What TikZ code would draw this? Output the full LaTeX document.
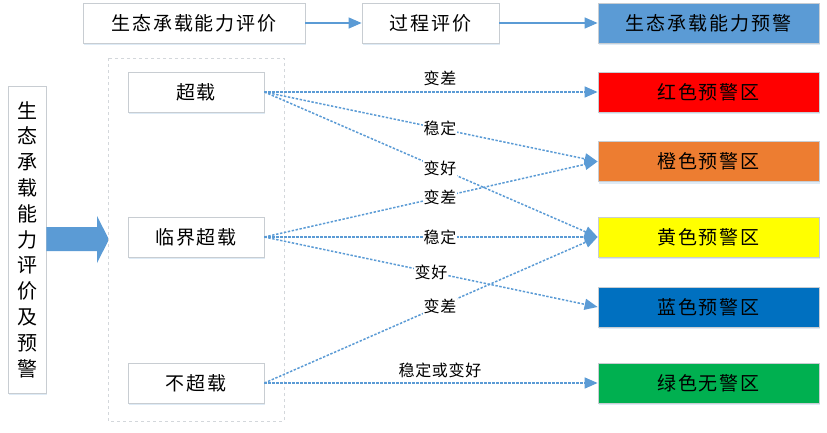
\documentclass[tikz,border=0pt]{standalone}
\usepackage{fontspec}
\setmainfont{Noto Sans CJK SC}
\newfontfamily\spacedcjk[LetterSpace=10]{Noto Sans CJK SC}
\newfontfamily\labelcjk[LetterSpace=4]{Noto Sans CJK SC}
\usetikzlibrary{arrows.meta,shadows}
\definecolor{topblue}{HTML}{5B9BD5}
\definecolor{boxgray}{HTML}{C8CDD2}
\definecolor{cred}{HTML}{FF0000}
\definecolor{corange}{HTML}{ED7D31}
\definecolor{cyellow}{HTML}{FFFF00}
\definecolor{cblue}{HTML}{0070C0}
\definecolor{cgreen}{HTML}{00B050}
\definecolor{shadowblue}{HTML}{BDD7EE}
\begin{document}
\begin{tikzpicture}[x=1pt,y=-1pt,
  box/.style={draw=boxgray, line width=0.8pt, fill=white, inner sep=0pt,
    font=\spacedcjk\fontsize{19}{23}\selectfont,
    drop shadow={shadow xshift=1pt, shadow yshift=-2pt, opacity=0.5, fill=shadowblue}},
  wide/.style={minimum width=221pt, minimum height=40pt},
  mid/.style={minimum width=136pt, minimum height=40pt},
  flow/.style={draw=topblue, line width=1.3pt, -{Triangle[length=13pt,width=11pt]}},
  dflow/.style={draw=topblue, line width=1.5pt, dash pattern=on 2.4pt off 1.6pt,
    -{Triangle[length=13pt,width=11pt]}},
  elab/.style={font=\labelcjk\fontsize{16}{19}\selectfont, inner sep=1pt, fill=white}
]
\useasboundingbox (0,0) rectangle (827,432);

% top row
\node[box, minimum width=222pt, minimum height=40pt] (t1) at (194,23) {生态承载能力评价};
\node[box, minimum width=137pt, minimum height=40pt] (t2) at (430.5,23) {过程评价};
\node[box, wide, fill=topblue] (t3) at (708.5,23) {生态承载能力预警};
\draw[flow] (t1) -- (t2);
\draw[flow] (t2) -- (t3);

% left vertical box
\node[box, minimum width=38pt, minimum height=307pt, align=center,
  font=\fontsize{20}{25.8}\selectfont] (lv) at (27,239.5)
  {生\\态\\承\\载\\能\\力\\评\\价\\及\\预\\警};

% block arrow
\fill[topblue] (lv.east |- 0,227) -- (97,227) -- (97,216) -- (109,239.5)
  -- (97,263) -- (97,251) -- (lv.east |- 0,251) -- cycle;

% dashed container
\draw[draw=boxgray!80, dashed, line width=0.7pt] (108,58) rectangle (284,421);

% middle boxes
\node[box, mid] (c1) at (196,92) {超载};
\node[box, mid] (c2) at (196,237) {临界超载};
\node[box, mid] (c3) at (196,383) {不超载};

% right boxes
\node[box, wide, fill=cred] (r1) at (708.5,92) {红色预警区};
\node[box, wide, fill=corange] (r2) at (708.5,161.5) {橙色预警区};
\node[box, wide, fill=cyellow] (r3) at (708.5,237) {黄色预警区};
\node[box, wide, fill=cblue] (r4) at (708.5,307) {蓝色预警区};
\node[box, wide, fill=cgreen] (r5) at (708.5,383) {绿色无警区};

% connectors
\draw[dflow] (c1.east) -- node[elab, pos=0.527, above=4pt, fill=none] {变差} (r1.west);
\draw[dflow] (c1.east) -- node[elab, pos=0.527] {稳定} (r2.west);
\draw[dflow] (c1.east) -- node[elab, pos=0.527] {变好} (r3.west);
\draw[dflow] (c2.east) -- node[elab, pos=0.527] {变差} (r2.west);
\draw[dflow] (c2.east) -- node[elab, pos=0.527] {稳定} (r3.west);
\draw[dflow] (c2.east) -- node[elab, pos=0.5] {变好} (r4.west);
\draw[dflow] (c3.east) -- node[elab, pos=0.527] {变差} (r3.west);
\draw[dflow] (c3.east) -- node[elab, pos=0.527, above=3pt, fill=none] {稳定或变好} (r5.west);
\end{tikzpicture}
\end{document}
